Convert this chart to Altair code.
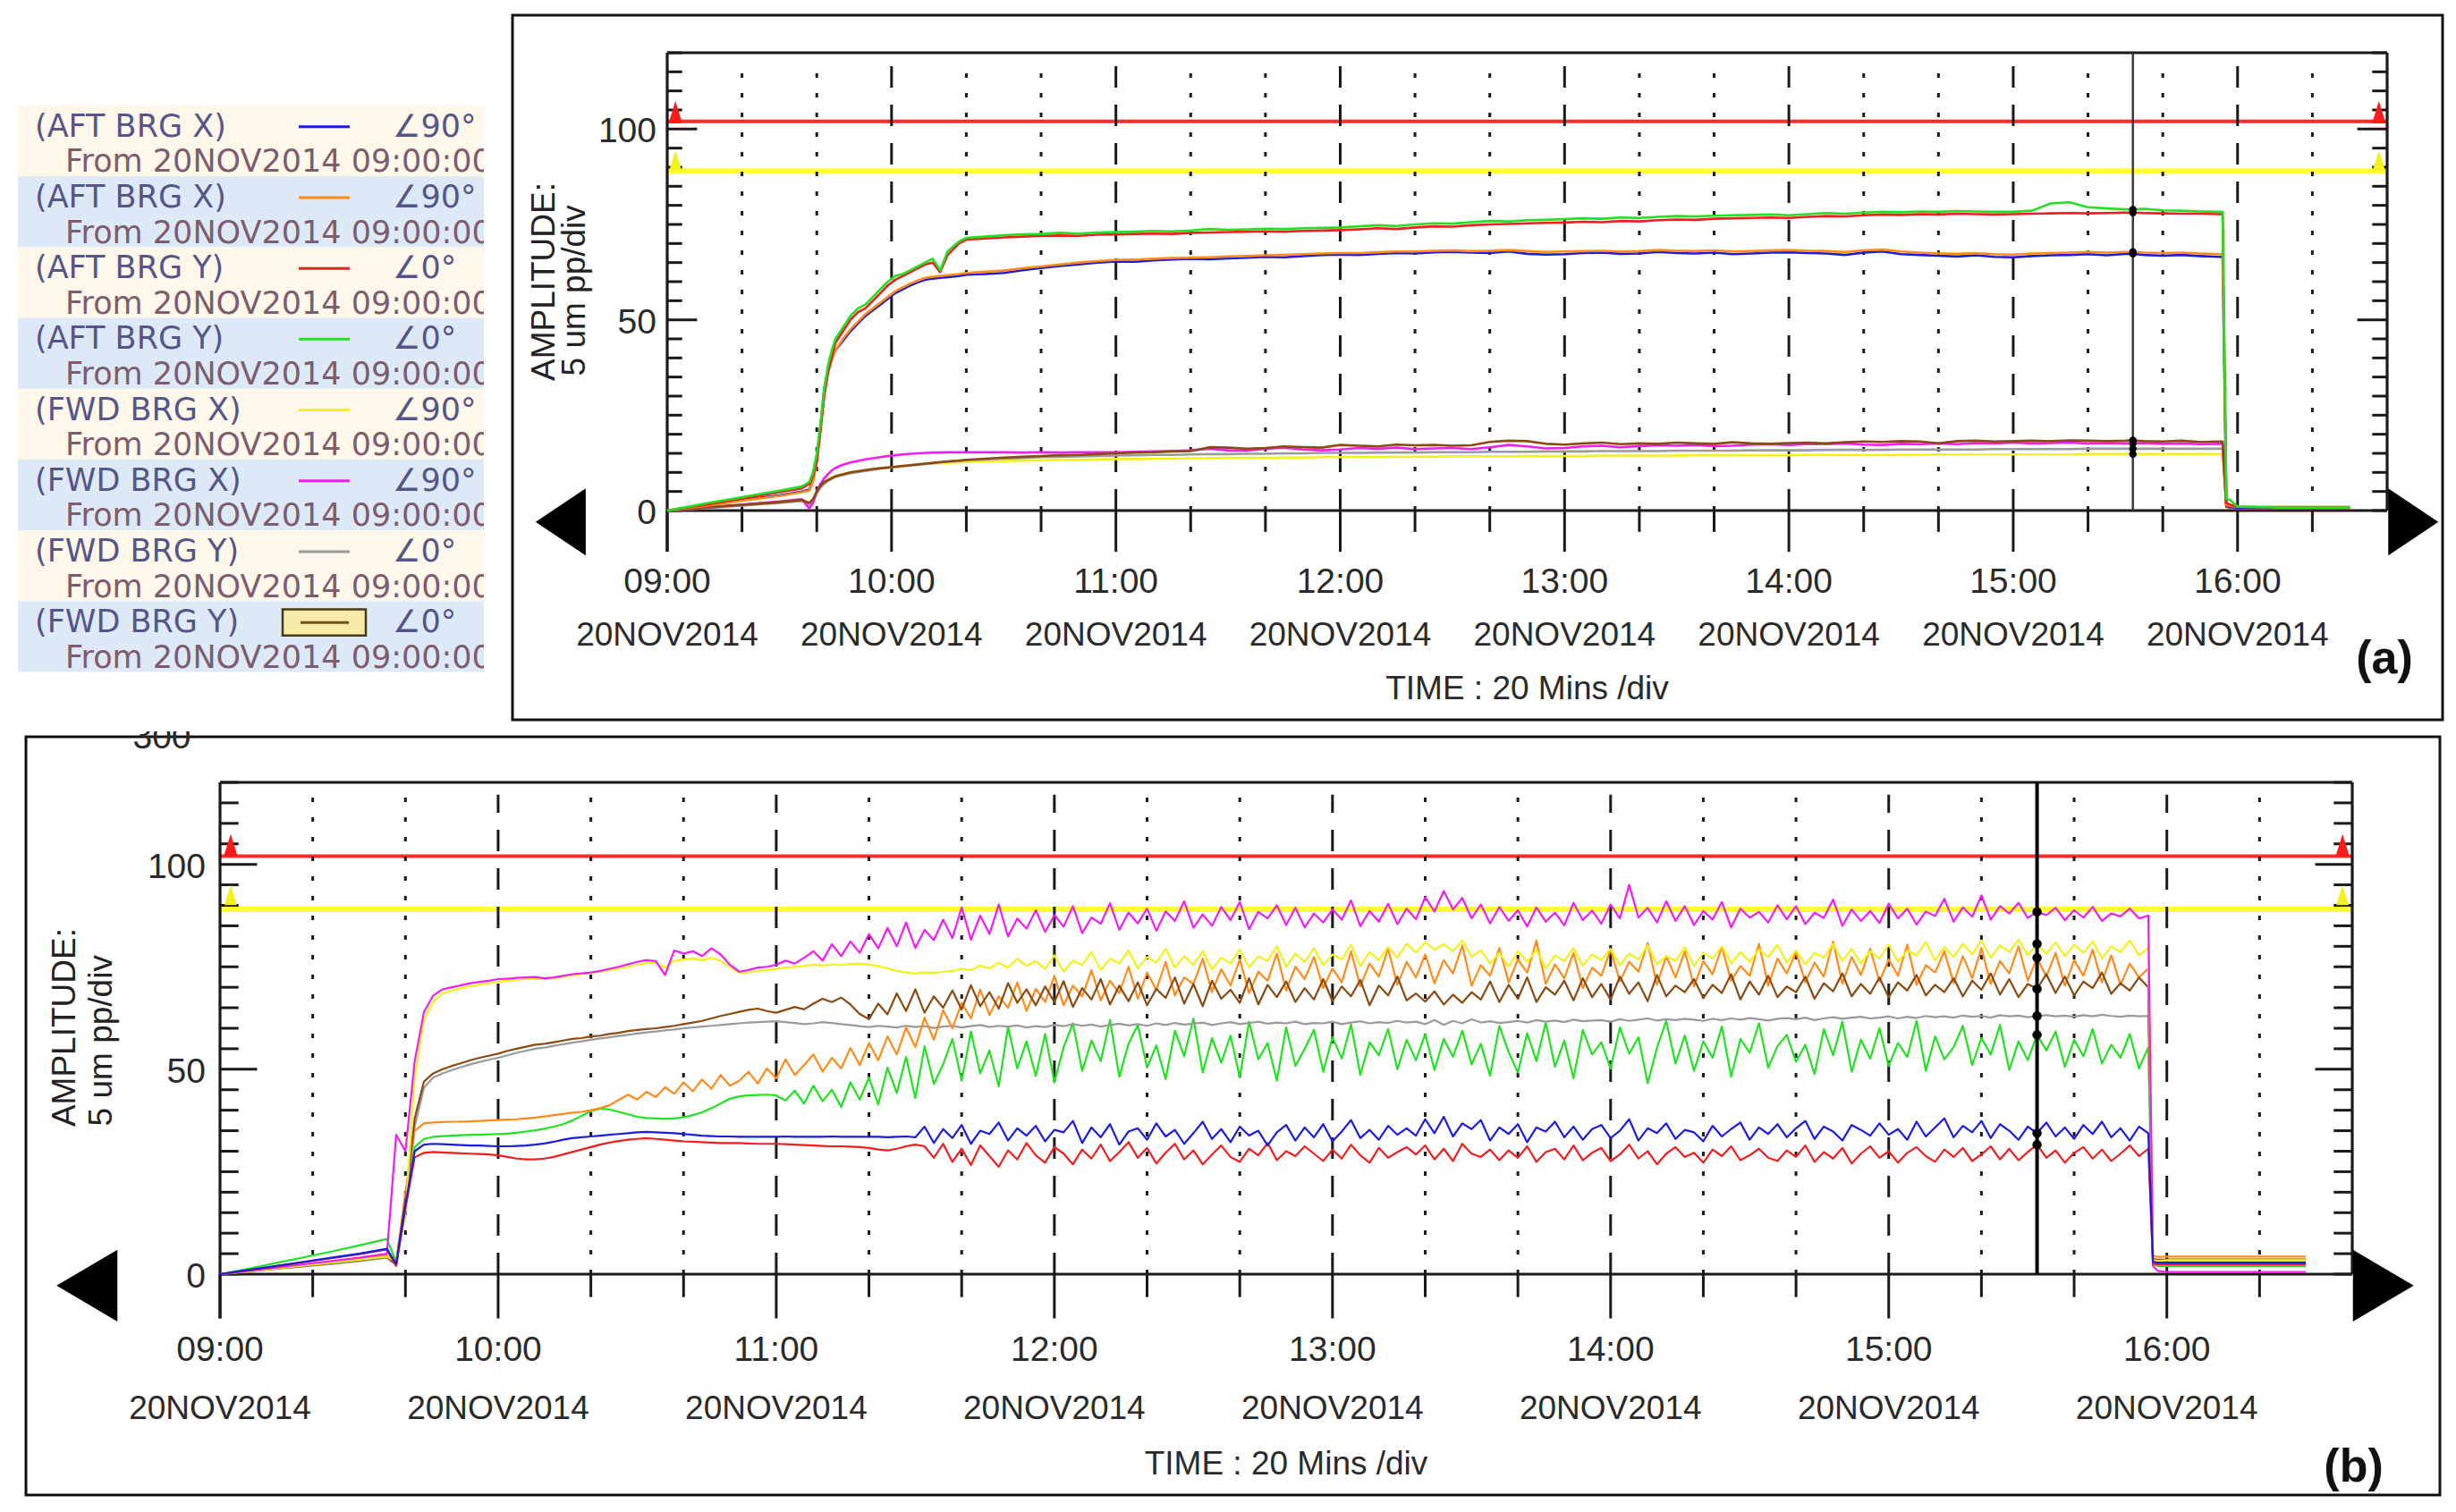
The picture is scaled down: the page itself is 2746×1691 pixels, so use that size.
import altair as alt
import pandas as pd

# ---------------- categories, labels, colours ----------------
SERIES = ["AFT_X_90", "AFT_X", "AFT_Y_0", "AFT_Y", "FWD_X_90", "FWD_X", "FWD_Y_0", "FWD_Y"]
COLORS = ["#1c1cdc", "#ff8c1a", "#f01e1e", "#22e022", "#f2f21a", "#f01ef0", "#9a9a9a", "#8b4a10"]
LEGEND_NAMES = ["(AFT BRG X)", "(AFT BRG X)", "(AFT BRG Y)", "(AFT BRG Y)",
                "(FWD BRG X)", "(FWD BRG X)", "(FWD BRG Y)", "(FWD BRG Y)"]
LEGEND_ANGLES = ["∠90°", "∠90°", "∠0°", "∠0°", "∠90°", "∠90°", "∠0°", "∠0°"]
LEGEND_FROM = "From 20NOV2014 09:00:00"
LEGEND_BG = ["#fff8ea", "#dde9f6", "#fff8ea", "#dde9f6", "#fff8ea", "#dde9f6", "#fff8ea", "#dde9f6"]
HOUR_T = [0, 60, 120, 180, 240, 300, 360, 420]           # minutes after 09:00
HOUR_LABELS = ["09:00", "10:00", "11:00", "12:00", "13:00", "14:00", "15:00", "16:00"]
DATE_LABEL = "20NOV2014"
MINOR_T = [20, 40, 80, 100, 140, 160, 200, 220, 260, 280, 320, 340, 380, 400, 440]
Y_TICKS = [0, 5, 10, 15, 20, 25, 30, 35, 40, 45, 50, 55, 60, 65, 70, 75, 80, 85, 90, 95,
           100, 105, 110, 115, 120]
Y_LABELS = [0, 50, 100]
ALARM_DANGER = 102
ALARM_ALERT = 89
CURSOR_T = 392
T_END = 460
TIME_TITLE = "TIME : 20 Mins /div"

# ---------------- panel (a) data ----------------
A_T = ([0, 10, 20, 30, 36, 38, 39, 40, 41, 42, 43, 44, 45, 47, 49, 51, 53, 55, 57, 59,
        61, 63, 65, 67, 69, 71, 73, 75, 78, 80]
       + list(range(85, 391, 5))
       + [392, 395, 400, 405, 410, 415, 416, 417, 418, 420, 430, 450])

A = {}
A["AFT_Y"] = ([0, 1.8, 3.5, 5.2, 6.3, 7.5, 10, 15, 23, 32, 38, 42, 45, 48, 51, 53, 54, 56, 58, 60,
               61.5, 62, 63, 64, 65, 66, 63, 68, 70.5, 71.5]
              + [71.8, 72.2, 72.4, 72.5, 72.8, 72.6, 72.9, 73, 73.1, 73.3,
                 73.2, 73.4, 73.8, 73.6, 73.7, 73.9, 73.8, 74, 74.1, 74.2,
                 74.5, 74.8, 74.6, 75, 75.3, 75.2, 75.6, 75.9, 75.8, 76.1,
                 76.2, 76.4, 76.6, 76.5, 76.8, 76.7, 77, 77.2, 77.1, 77.3,
                 77.4, 77.5, 77.6, 77.4, 77.7, 78, 77.8, 78.1, 78.3, 78.2,
                 78.4, 78.3, 78.5, 78.4, 78.3, 78.3, 78.6, 80.5, 80.8, 79.5,
                 79.2, 79]
              + [78.9, 79.1, 78.7, 78.6, 78.4, 78.3, 78.3, 3, 2.8, 1, 0.8, 0.8])
A["AFT_Y_0"] = ([0, 1.5, 3.2, 4.8, 5.8, 7, 9, 13, 21, 30, 36, 40, 44, 47, 50, 52, 53, 55, 57, 59,
                 60.5, 61.5, 62.5, 63.5, 64.5, 65, 62.5, 67, 70, 71]
                + [71.3, 71.6, 71.8, 72, 72.1, 72, 72.3, 72.4, 72.5, 72.6,
                   72.5, 72.8, 72.9, 73, 73.1, 73.2, 73.1, 73.3, 73.4, 73.5,
                   73.7, 74, 73.8, 74.2, 74.5, 74.4, 74.8, 75, 75.1, 75.3,
                   75.4, 75.5, 75.7, 75.6, 75.9, 75.8, 76.1, 76.3, 76.2, 76.5,
                   76.6, 76.7, 76.8, 76.7, 77, 77.2, 77.1, 77.4, 77.6, 77.5,
                   77.7, 77.6, 77.8, 77.7, 77.6, 77.7, 77.8, 77.9, 78, 77.9,
                   78, 78.1]
                + [78.1, 78, 77.9, 77.8, 77.8, 77.7, 77.7, 2, 1.5, 1, 0.8, 0.8])
A["AFT_X_90"] = ([0, 1.3, 2.8, 4, 5, 5.5, 8, 13, 22, 32, 37, 40, 42, 44.5, 47, 49, 51, 52.5, 54, 55.5,
                  57, 58, 59, 59.8, 60.5, 60.8, 61, 61.2, 61.5, 61.8]
                 + [62, 62.3, 63, 63.6, 64.1, 64.5, 65, 65.3, 65.2, 65.6,
                    65.8, 66, 65.9, 66.1, 66.3, 66.5, 66.4, 66.7, 67, 67.1,
                    67, 67.3, 67.5, 67.4, 67.7, 67.8, 67.6, 67.5, 67.9, 67.3,
                    67.1, 67.2, 67.5, 67.6, 67.3, 67.4, 67.8, 67.5, 67.4, 67.6,
                    67.2, 67.4, 67.6, 67.7, 67.5, 67.4, 67, 67.6, 67.9, 67.2,
                    67, 66.8, 66.6, 66.9, 66.5, 66.4, 66.7, 66.9, 67, 67.2,
                    66.9, 67.3]
                 + [67.3, 67, 66.8, 67, 66.7, 66.5, 66.5, 1.5, 1, 0.8, 0.8, 0.8])
A["AFT_X"] = ([0, 1.2, 2.6, 3.8, 4.8, 5.3, 7.5, 12.5, 21, 31, 36.5, 39.5, 42, 45, 47.5, 49.5, 51.5, 53,
               54.5, 56, 57.5, 58.5, 59.5, 60.3, 61, 61.3, 61.5, 61.7, 62, 62.3]
              + [62.6, 62.9, 63.5, 64, 64.5, 65, 65.4, 65.7, 65.8, 66,
                 66.2, 66.3, 66.4, 66.6, 66.7, 66.9, 67, 67.2, 67.4, 67.5,
                 67.5, 67.7, 67.9, 67.9, 68.1, 68.2, 68, 68.1, 68.3, 68,
                 67.8, 67.9, 68, 68.1, 67.9, 68, 68.3, 68.1, 68, 68.2,
                 67.9, 68, 68.2, 68.3, 68.1, 68, 67.8, 68.2, 68.4, 67.9,
                 67.6, 67.4, 67.3, 67.5, 67.2, 67.1, 67.4, 67.5, 67.6, 67.8,
                 67.6, 67.8]
              + [67.8, 67.6, 67.5, 67.6, 67.4, 67.2, 67.2, 1.5, 1.2, 1, 1, 1])
A["FWD_X_90"] = ([0, 0.7, 1.4, 2.1, 2.6, 1.8, 3, 5, 6.5, 7.5, 8.2, 8.7, 9.1, 9.6, 10, 10.3, 10.6, 10.8,
                  11, 11.2, 11.4, 11.6, 11.8, 12, 12.2, 12.3, 12.4, 12.5, 12.6, 12.7]
                 + [12.9, 13, 13.1, 13.2, 13.3, 13.3, 13.4, 13.5, 13.5, 13.6,
                    13.6, 13.7, 13.7, 13.8, 13.8, 13.8, 13.9, 13.9, 14, 14,
                    14, 14, 14.1, 14.1, 14.1, 14.2, 14.2, 14.2, 14.2, 14.3,
                    14.3, 14.3, 14.3, 14.4, 14.4, 14.4, 14.4, 14.4, 14.5, 14.5,
                    14.5, 14.5, 14.5, 14.5, 14.6, 14.6, 14.6, 14.6, 14.6, 14.6,
                    14.6, 14.7, 14.7, 14.7, 14.7, 14.7, 14.7, 14.7, 14.7, 14.8,
                    14.8, 14.8]
                 + [14.8, 14.8, 14.8, 14.8, 14.8, 14.8, 14.8, 1, 0.8, 0.6, 0.6, 0.6])
A["FWD_X"] = ([0, 0.8, 1.6, 2.4, 3, 0.5, 2, 5, 7, 8.5, 9.5, 10.5, 11.2, 12, 12.6, 13, 13.4, 13.7, 14,
               14.3, 14.5, 14.7, 14.9, 15, 15.1, 15.2, 15.2, 15.3, 15.3, 15.3]
              + [15.3, 15.3, 15.2, 15.3, 15.2, 15.3, 15.3, 15.3, 15.4, 15.5,
                 15.6, 15.8, 16.2, 15.8, 15.7, 16.2, 16.5, 16, 15.8, 16,
                 16.4, 16.2, 16.5, 16.1, 16.3, 16.4, 16.1, 16.6, 17.2, 16.8,
                 16.3, 16.4, 16.8, 17, 16.6, 16.9, 17.1, 17, 17.2, 16.9,
                 17, 17.3, 17.4, 17.2, 17.5, 17.4, 17.6, 17.3, 17.2, 17.5,
                 17.4, 17.6, 17.4, 17.7, 17.6, 17.8, 17.6, 17.7, 17.8, 17.6,
                 17.7, 17.6]
              + [17.6, 17.7, 17.5, 17.6, 17.4, 17.5, 17.5, 1, 0.8, 0.5, 0.5, 0.5])
A["FWD_Y"] = ([0, 0.8, 1.5, 2.2, 2.8, 2, 3, 5, 6.5, 7.5, 8, 8.5, 9, 9.5, 10, 10.3, 10.6, 10.9, 11.1,
               11.3, 11.5, 11.7, 11.9, 12.1, 12.3, 12.5, 12.7, 12.9, 13.1, 13.3]
              + [13.6, 13.9, 14.1, 14.3, 14.5, 14.6, 14.8, 15, 15.2, 15.3,
                 15.5, 15.6, 16.6, 16.5, 16.2, 16.4, 16.8, 16.6, 16.5, 17.2,
                 17, 16.8, 17.3, 17.1, 17.2, 17, 17.1, 18, 18.3, 18.2,
                 17.5, 17.3, 17.6, 17.8, 17.4, 17.6, 17.5, 17.8, 17.6, 17.5,
                 17.9, 17.6, 17.5, 17.7, 17.8, 17.6, 17.9, 18.1, 18, 18.2,
                 18.1, 17.6, 18.2, 18.3, 18.1, 18.2, 18.3, 18.2, 18.4, 18.3,
                 18.2, 18.3]
              + [18.4, 18.2, 18.1, 18.3, 18, 18.1, 18.1, 1, 0.8, 0.6, 0.6, 0.6])
A["FWD_Y_0"] = ([0, 0.6, 1.3, 2, 2.5, 1.5, 2.5, 4.5, 6, 7, 7.8, 8.3, 8.8, 9.3, 9.8, 10.1, 10.4, 10.7, 11,
                 11.2, 11.4, 11.6, 11.8, 12, 12.2, 12.4, 12.6, 12.8, 13, 13.2]
                + [13.4, 13.6, 13.8, 14, 14.1, 14.2, 14.3, 14.4, 14.5, 14.6,
                   14.6, 14.7, 14.8, 14.8, 14.9, 14.9, 15, 15, 15.1, 15.1,
                   15.1, 15.2, 15.2, 15.2, 15.3, 15.3, 15.3, 15.4, 15.4, 15.4,
                   15.5, 15.5, 15.5, 15.6, 15.6, 15.6, 15.6, 15.7, 15.7, 15.7,
                   15.7, 15.8, 15.8, 15.8, 15.8, 15.9, 15.9, 15.9, 15.9, 16,
                   16, 16, 16, 16, 16.1, 16.1, 16.1, 16.1, 16.1, 16.2,
                   16.2, 16.2]
                + [16.2, 16.2, 16.2, 16.2, 16.2, 16.2, 16.2, 1, 0.8, 0.6, 0.6, 0.6])

# ---------------- panel (b) data ----------------
B_T = [0, 6, 12, 18, 24, 30, 36] + list(range(38, 417, 2)) + [417, 418, 420, 430, 440, 450]

B = {}
B["FWD_X"] = ([0, 0.8, 1.6, 2.4, 3.2, 4, 5]
              + [34, 30, 52, 64, 68, 69.5, 70, 70.5, 71, 71.3,
                 71.6, 72, 72.1, 72.3, 72.4, 72.5, 72.2, 72.4, 72.8, 73.2,
                 73.4, 73.6, 74, 74.5, 75, 75.6, 76.2, 76.6, 76.4, 73,
                 79, 78.2, 78.8, 77.6, 79.5, 78, 75.5, 73.8, 74.2, 74.8,
                 75, 75.5, 76.5, 75.8, 77.2, 78.8, 76.5, 80.5, 77.6, 81.2,
                 78.4, 83, 79.5, 84.5, 80, 85.8, 79.6, 84, 81.5, 86.5,
                 82, 89.5, 81.6, 87.5, 83, 90.2, 82.4, 86.8, 84.3, 88.8,
                 83.5, 87.6, 84.8, 89.8, 83.2, 87, 85.5, 90.5, 84, 88.2,
                 85.6, 89.2, 83.8, 88.5, 86.2, 91, 84.5, 87.8, 85, 89.6,
                 86.4, 90.8, 84.2, 88.4, 86.8, 90, 85.2, 89.4, 84.6, 88,
                 85.8, 89, 86.5, 91.2, 84.9, 88.6, 86, 90.4, 85.4, 89.2,
                 86.6, 92, 88.5, 93.5, 89, 91.8, 86.8, 90.2, 85.6, 89.6,
                 86.2, 88.8, 84.8, 89.5, 86, 88.2, 85.1, 90.6, 86.4, 88.7,
                 85.5, 90.2, 86.8, 95, 87, 89.4, 85.8, 91, 86.2, 89.8,
                 85.2, 88.6, 86.5, 90.8, 84.6, 89.2, 87, 88.4, 85.8, 90,
                 86.6, 89.8, 85.4, 88.2, 86.9, 91.4, 85, 89, 86.2, 88.6,
                 85.7, 90.4, 86.8, 89.2, 85.3, 88.5, 87.4, 91.6, 86, 89.5,
                 87.2, 92.4, 86.5, 89.8, 88, 90.6, 86.9, 88.4, 87.6, 89.4,
                 86.4, 88.8, 87, 89.6, 86.2, 88, 87.3, 89.2, 86.8, 87.5]
              + [2, 0.8, 0.5, 0.5, 0.5, 0.5])
B["FWD_X_90"] = ([0, 0.7, 1.4, 2.1, 2.8, 3.5, 4.3]
                 + [3, 15, 48, 62, 66.5, 68.5, 69.2, 69.8, 70.3, 70.7,
                    71, 71.4, 71.6, 71.8, 72, 72.1, 72, 72.2, 72.6, 73,
                    73.2, 73.5, 73.8, 74.2, 74.6, 75, 75.5, 75.9, 76, 74.8,
                    76.5, 76.8, 77, 76.6, 77.2, 76.4, 75, 73.5, 73.6, 74,
                    74.2, 74.5, 74.8, 75, 75.2, 75.5, 75.3, 75.6, 75.4, 75.7,
                    75.8, 75.5, 75.2, 74.6, 74, 73.6, 73.4, 73.6, 73.5, 73.8,
                    74, 74.5, 74.2, 75.3, 74.6, 76, 74.8, 77, 75.2, 76.4,
                    74.5, 77.8, 73.8, 76.5, 75.4, 78.6, 74.2, 77, 75.8, 79,
                    74.6, 77.4, 76, 79.4, 74.8, 77.6, 75.5, 78.8, 74.4, 77.2,
                    75.8, 79.2, 74.9, 77.5, 76.4, 80, 75, 78.2, 76.2, 79.5,
                    75.4, 78, 76.8, 80.4, 75.2, 78.6, 76.6, 79.8, 77.2, 80.6,
                    78.5, 81, 79.2, 80.5, 78.8, 81.4, 77.5, 79, 75.8, 78.4,
                    75, 78.8, 76.2, 79.2, 74.6, 77.8, 76.4, 79.6, 75.2, 78,
                    76.6, 79.4, 75.4, 78.2, 76.8, 80.2, 75.6, 77.6, 76.4, 79.8,
                    75.2, 78.4, 77, 80, 75.8, 78.6, 76.2, 79.2, 77.4, 80.4,
                    76, 79, 75.6, 78.4, 77.2, 80.6, 76.4, 79.4, 75.8, 78.8,
                    77, 80.4, 76.2, 79, 77.8, 81, 76.6, 79.8, 77.4, 80.6,
                    78, 81.4, 77.2, 80.2, 78.6, 81.6, 77.8, 80.6, 78.2, 81,
                    77.6, 80.4, 78.4, 81.2, 77, 80, 78.6, 81.4, 77.8, 79.6]
                 + [3.5, 3.2, 3.4, 3.4, 3.4, 3.4])
B["FWD_Y"] = ([0, 0.7, 1.4, 2, 2.7, 3.4, 4.2]
              + [2.5, 18, 38, 47, 49, 50, 50.8, 51.5, 52.2, 52.8,
                 53.3, 53.8, 54.5, 55, 55.5, 56, 56.2, 56.6, 57, 57.4,
                 57.6, 58, 58.2, 58.6, 58.9, 59.3, 59.6, 59.8, 60, 60.3,
                 60.6, 61, 61.4, 61.8, 62.4, 63, 63.5, 64, 64.5, 64.8,
                 64.2, 63.8, 64.5, 65.2, 64.6, 66, 67.2, 66.4, 67.5, 65.8,
                 63.5, 62.2, 66, 63.4, 68.5, 64.2, 69.5, 63.8, 67.8, 65,
                 69.2, 64.6, 70.5, 65.4, 68.8, 64.8, 71, 66.2, 69.5, 65.6,
                 70.2, 66.4, 71.5, 65.2, 69.8, 67, 72, 65.8, 70.4, 66.6,
                 71.2, 65.6, 69.6, 67.4, 72.4, 66, 70.8, 65.4, 71.6, 67.2,
                 69.4, 66.2, 72.2, 65.8, 70.6, 67.6, 71.4, 66.4, 69.8, 67,
                 72, 66.6, 70.2, 67.8, 71.8, 65.6, 70.4, 68, 72.6, 66.8,
                 68.5, 66.5, 69, 65.8, 68.2, 66.2, 68.8, 67, 71.4, 66.4,
                 70.6, 67.2, 72.4, 66.4, 70, 68.2, 71.6, 66.8, 72.2, 67.6,
                 70.8, 67, 72.6, 68.4, 71.2, 66.6, 73, 67.8, 70.4, 68.8,
                 72, 67.4, 70.6, 68.6, 73.2, 67, 71.4, 68.2, 72.8, 67.6,
                 70.2, 68.8, 72.6, 67.2, 71, 69, 73.4, 67.8, 70.8, 68.4,
                 72.4, 67.6, 71.2, 69.2, 73, 68, 70.6, 68.8, 72.2, 67.8,
                 71.6, 69.4, 73.4, 68.2, 72, 67.6, 70.8, 69.6, 73.2, 68.6,
                 72.6, 68, 71.4, 69.8, 73.6, 68.4, 71, 69.2, 72.4, 70]
              + [3.8, 3.5, 3.6, 3.6, 3.6, 3.6])
B["FWD_Y_0"] = ([0, 0.6, 1.3, 1.9, 2.5, 3.2, 4]
                + [2.2, 16, 36, 45.5, 48, 49, 49.8, 50.5, 51.2, 51.8,
                   52.3, 52.8, 53.4, 54, 54.5, 55, 55.3, 55.7, 56.1, 56.5,
                   56.8, 57.2, 57.5, 57.8, 58.1, 58.4, 58.7, 59, 59.2, 59.5,
                   59.7, 60, 60.2, 60.4, 60.6, 60.8, 61, 61.2, 61.4, 61.5,
                   61.6, 61.7, 61.5, 61.3, 61, 61.2, 61.5, 61.3, 61, 60.8,
                   60.5, 60.3, 60.6, 60.4, 60.2, 60.6, 60.3, 60.5, 60.1, 60.4,
                   60.6, 60.2, 60.5, 60.8, 60.3, 60.6, 60.4, 60.7, 60.2, 60.5,
                   60.3, 60.8, 60.5, 61, 60.6, 60.9, 60.4, 60.8, 61.1, 60.7,
                   61, 60.6, 61.2, 60.8, 61.3, 60.9, 61.1, 61.4, 60.8, 61.2,
                   61.5, 61, 61.3, 61.6, 61.1, 61.4, 61.2, 61.6, 61, 61.3,
                   61.2, 61.6, 61, 61.4, 61.7, 61.2, 61.5, 61.3, 61.8, 61.4,
                   61.6, 61, 62, 60.8, 61.8, 61.2, 62.2, 61.4, 61.7, 61.3,
                   61.5, 61.8, 61.4, 62, 61.6, 61.9, 61.5, 62.1, 61.7, 61.9,
                   62, 61.6, 62.2, 61.8, 62.1, 62.4, 61.9, 62.2, 62, 62.3,
                   62.1, 61.8, 62.3, 62, 62.4, 62.1, 62.5, 62.2, 61.9, 62.3,
                   62.5, 62.2, 62.6, 62, 62.4, 62.7, 62.3, 62.6, 62.8, 62.4,
                   62.6, 62.9, 62.4, 62.8, 62.5, 63, 62.7, 62.9, 62.6, 63.1,
                   62.8, 63, 62.6, 63.2, 62.9, 63.1, 62.7, 63, 63.2, 62.9,
                   63.1, 62.8, 63.2, 62.9, 63.3, 63, 62.8, 63.1, 62.9, 63]
                + [3.2, 3, 3, 3, 3, 3])
B["AFT_X"] = ([0, 0.8, 1.5, 2.3, 3, 3.8, 4.6]
              + [2.8, 20, 35, 36.8, 37, 37.1, 37.2, 37.2, 37.3, 37.4,
                 37.5, 37.6, 37.7, 37.8, 38, 38.2, 38.5, 38.8, 39.1, 39.4,
                 39.6, 40, 40.5, 41.2, 42.5, 43.8, 42.6, 44.5, 43.2, 45.6,
                 44, 46.8, 44.6, 47.5, 45.2, 48.6, 46, 47.2, 49.4, 46.5,
                 50.2, 47.8, 52.4, 48.6, 51, 53.6, 49.4, 52.8, 50.2, 55.2,
                 51, 56.4, 52.2, 58, 53.6, 60.2, 55.4, 62.6, 57.2, 64.4,
                 60, 66.2, 62.4, 69.4, 63.2, 67.8, 65, 71.2, 64.2, 69.6,
                 66.4, 72.8, 65.6, 70.4, 67.8, 74.2, 66.8, 71.6, 68.6, 75,
                 67.2, 73.6, 69.4, 76.2, 68, 72.4, 70.8, 77, 68.8, 74.4,
                 70.4, 76.8, 68.6, 73.8, 71.6, 78.2, 69.2, 75, 72, 77.4,
                 69.8, 74.6, 71.2, 78.8, 70.2, 75.8, 72.6, 79.4, 70.6, 76.2,
                 72.4, 78, 71, 76.6, 73.4, 80.2, 70.4, 75.4, 72.8, 79.6,
                 71.2, 76.8, 73.6, 81.4, 70.8, 75.6, 72.2, 78.4, 69.8, 74.8,
                 72.8, 79.2, 71.4, 76.2, 73.8, 80.8, 70.6, 77.6, 72.4, 78.8,
                 70.2, 76.4, 73.2, 79.8, 71.6, 75.2, 72.8, 80.6, 70.4, 77,
                 73.4, 78.6, 71.2, 76, 72.6, 81.2, 70.8, 77.4, 73, 79.4,
                 71.4, 76.8, 72.8, 80.4, 70.6, 75.4, 73.6, 78.8, 71, 77.6,
                 72.2, 79.6, 70.8, 76.4, 73.4, 80, 71.6, 77.2, 72.6, 78.4,
                 70.4, 76.6, 72.8, 79.2, 71.2, 77.8, 70.6, 75.8, 72.4, 74.6]
              + [4.5, 4.2, 4.3, 4.3, 4.3, 4.3])
B["AFT_Y"] = ([0, 1.3, 2.7, 4.1, 5.5, 7, 8.6]
              + [3, 18, 31, 33, 33.5, 33.7, 33.8, 33.9, 34, 34,
                 34.1, 34.2, 34.3, 34.5, 34.8, 35.1, 35.5, 36, 36.6, 37.5,
                 38.6, 39.8, 40.4, 40.2, 39.6, 39, 38.4, 38.1, 38, 37.9,
                 38, 38.3, 38.8, 39.5, 40.5, 41.6, 42.8, 43.4, 43.6, 43.7,
                 43.8, 43.6, 42.4, 44.8, 41.6, 46, 42.2, 45, 40.8, 46.8,
                 42.6, 48, 41.4, 50.4, 44.2, 53, 43, 55.6, 46.4, 51.2,
                 57.4, 47.2, 59.2, 49, 54.6, 45.8, 60.4, 50.2, 56.8, 48.4,
                 58.6, 46.8, 55.4, 61.2, 49.6, 57, 52, 62, 48.2, 56.2,
                 60.8, 50.4, 55.8, 47.6, 59.4, 53.2, 62.4, 49.2, 57.6, 51.6,
                 58.2, 48, 61.6, 52.4, 56.4, 47.2, 60.2, 50.8, 55, 59.6,
                 49.4, 57.8, 52.6, 61, 48.6, 56.6, 53.4, 59.8, 50, 57.2,
                 52.2, 58.6, 49.8, 57.4, 53, 59.4, 51.2, 56.2, 48.4, 60.6,
                 54.2, 49.2, 58.8, 52, 61.4, 50.6, 57, 47.8, 59.6, 53.6,
                 56.6, 50.2, 60.2, 53.8, 57.8, 46.6, 55.2, 61.8, 51.4, 58.2,
                 49.6, 56.8, 52.8, 60.4, 48.2, 57.4, 54, 61.2, 50.4, 55.6,
                 58.4, 51.8, 56, 48.8, 59.8, 53.4, 61.6, 49.4, 57.2, 52.6,
                 60, 50.8, 56.4, 53, 61.8, 49.6, 58, 52.4, 55.4, 60.6,
                 51, 57.6, 53.6, 60.8, 49.8, 56.8, 52.2, 58.4, 54.6, 59.2,
                 50.6, 57.2, 53.2, 59.8, 51.4, 56, 52.8, 58.6, 50.2, 55.4]
              + [2.4, 2, 2, 2, 2, 2])
B["AFT_X_90"] = ([0, 1, 2, 3, 4, 5, 6.2]
                 + [2.5, 17, 30, 31.6, 31.8, 31.7, 31.6, 31.5, 31.4, 31.4,
                    31.3, 31.2, 31.2, 31.3, 31.4, 31.6, 31.9, 32.3, 32.8, 33.2,
                    33.4, 33.6, 33.8, 34, 34.2, 34.4, 34.6, 34.7, 34.6, 34.5,
                    34.4, 34.2, 34, 33.8, 33.7, 33.6, 33.6, 33.5, 33.5, 33.5,
                    33.5, 33.5, 33.6, 33.5, 33.5, 33.5, 33.5, 33.6, 33.5, 33.5,
                    33.5, 33.5, 33.5, 33.4, 33.5, 33.6, 33.4, 36, 32, 35.4,
                    33.2, 36.4, 31.8, 35, 34.2, 37, 32.6, 35.6, 33.8, 36.2,
                    32.4, 35.2, 34.6, 37.4, 32, 35.8, 33.4, 36.6, 31.6, 34.8,
                    35.6, 32.8, 36.8, 33.6, 35.2, 31.8, 34.4, 37.2, 33, 35.4,
                    32.2, 36, 33.8, 35, 31.4, 34.6, 36.4, 32.6, 35.8, 33.4,
                    36.6, 32.4, 34.8, 37.6, 33.2, 35.2, 32.8, 36.2, 34, 35.6,
                    33.8, 37.8, 34.4, 38.4, 33.6, 36.8, 35.4, 37.6, 32.6, 35.8,
                    34.2, 36.6, 32.2, 35.8, 34.8, 37.2, 33.4, 36, 32.8, 35.4,
                    36.4, 33.2, 35, 37.8, 32.6, 35.6, 34.4, 36.8, 33, 35.2,
                    34.6, 32.4, 36.2, 33.6, 35.4, 37, 32.8, 35.8, 34.2, 36.6,
                    33.4, 35.6, 37.4, 33, 36, 34.8, 32.6, 36.4, 35.2, 33.8,
                    36.8, 34, 35.4, 32.8, 37.2, 33.6, 35.8, 38, 33.4, 36.2,
                    34.6, 37.4, 33.2, 36.6, 35, 32.8, 36, 34.4, 37, 33.6,
                    35.8, 33, 36.4, 34.2, 37.2, 33.4, 35.6, 32.6, 36, 34.4]
                 + [3, 2.8, 2.8, 2.8, 2.8, 2.8])
B["AFT_Y_0"] = ([0, 0.9, 1.9, 2.9, 3.9, 4.9, 6]
                + [2, 16, 28.5, 29.6, 29.8, 29.7, 29.6, 29.5, 29.4, 29.3,
                   29.2, 29, 28.6, 28.2, 28, 28, 28.2, 28.6, 29.2, 29.8,
                   30.4, 31, 31.6, 32.1, 32.5, 32.8, 33, 33.2, 33, 32.8,
                   32.6, 32.4, 32.3, 32.2, 32.1, 32, 32, 32, 31.9, 31.8,
                   31.8, 31.8, 31.7, 31.6, 31.5, 31.4, 31.3, 31.2, 31.2, 31.1,
                   31, 30.8, 30.4, 30.2, 30.6, 31.2, 31.6, 31.2, 28.4, 31.8,
                   27.4, 30.6, 26.6, 31.4, 28.8, 26.2, 30.2, 28, 32, 29,
                   27.2, 31, 29.4, 26.8, 30.4, 28.2, 31.6, 27.6, 29.8, 32.2,
                   28.4, 30.8, 27, 29.6, 31.8, 28, 30.2, 26.8, 29.2, 31.4,
                   28.6, 27.4, 30.6, 29, 32, 27.8, 30, 28.8, 31.2, 29.4,
                   27.6, 30.4, 28.2, 31.6, 29, 27.2, 30.8, 28.4, 29.8, 31,
                   29.2, 31.4, 28, 30.6, 27.6, 31.8, 29.4, 28.6, 30.4, 27.8,
                   30.2, 28.4, 31.2, 27.4, 29.8, 30.6, 28, 31.4, 27.8, 29.6,
                   30.8, 27.6, 29.2, 31.6, 28.2, 30, 26.8, 29.4, 31, 28.6,
                   29.6, 27.2, 30.4, 28.8, 31.2, 27.8, 29, 30.6, 28.4, 27.6,
                   30.2, 28.6, 31.4, 27.4, 29.8, 28.2, 30.8, 27, 29.4, 31.2,
                   28.4, 30, 27.2, 29.6, 31, 28.8, 27.4, 30.4, 28.6, 30.8,
                   27.6, 29.2, 31.2, 28, 30.6, 27.8, 29.8, 31.6, 28.4, 30.2,
                   27.2, 29.6, 31, 28.2, 30.4, 27.6, 29.4, 31.4, 28.8, 30.6]
                + [2.6, 2.4, 2.4, 2.4, 2.4, 2.4])


def long_table(times, values):
    rows = []
    for key in SERIES:
        vals = values[key]
        assert len(vals) == len(times), (key, len(vals), len(times))
        for t, v in zip(times, vals):
            rows.append({"t": t, "v": v, "s": key})
    return pd.DataFrame(rows)


DF_A = long_table(A_T, A)
DF_B = long_table(B_T, B)
COLOR_OF = dict(zip(SERIES, COLORS))

TICKFONT = "Liberation Sans, Arial, sans-serif"
SANS = "Liberation Sans, Arial, sans-serif"
INK = "#1a1a1a"
LABEL_INK = "#2a2a2a"
TICK_FS = 37


def X(field, sc):
    return alt.X(field, type="quantitative", scale=sc, axis=None)


def Y(field, sc):
    return alt.Y(field, type="quantitative", scale=sc, axis=None)


def rules(df, sx, sy, **mk):
    return alt.Chart(df).mark_rule(**mk).encode(
        x=X("t0", sx), x2=alt.X2("t1"), y=Y("v0", sy), y2=alt.Y2("v1"))


def panel(df, P):
    sx = alt.Scale(domain=[0, T_END], range=P["xr"], nice=False, zero=False)
    sy = alt.Scale(domain=[0, 120], range=P["yr"], nice=False, zero=False)
    L = []
    # alarm levels
    L.append(rules(pd.DataFrame({"t0": [0], "t1": [T_END], "v0": [ALARM_ALERT], "v1": [ALARM_ALERT]}),
                   sx, sy, color="#ffff33", strokeWidth=6))
    L.append(rules(pd.DataFrame({"t0": [0], "t1": [T_END], "v0": [ALARM_DANGER], "v1": [ALARM_DANGER]}),
                   sx, sy, color="#ff2a2a", strokeWidth=4))
    # vertical grid
    L.append(rules(pd.DataFrame({"t0": MINOR_T, "t1": MINOR_T, "v0": 0.0, "v1": 117.0}),
                   sx, sy, color=INK, strokeWidth=3, strokeDash=[5, 17]))
    L.append(rules(pd.DataFrame({"t0": HOUR_T[1:], "t1": HOUR_T[1:], "v0": 0.0, "v1": 117.0}),
                   sx, sy, color=INK, strokeWidth=3, strokeDash=[24, 19]))
    # y ticks inside, left and right
    ln = [8 if v in (50, 100) else 4 for v in Y_TICKS]
    L.append(rules(pd.DataFrame({"t0": 0, "t1": ln, "v0": Y_TICKS, "v1": Y_TICKS}),
                   sx, sy, color=INK, strokeWidth=3))
    L.append(rules(pd.DataFrame({"t0": [T_END - l for l in ln], "t1": T_END, "v0": Y_TICKS, "v1": Y_TICKS}),
                   sx, sy, color=INK, strokeWidth=3))
    # x ticks below axis
    xt = HOUR_T + MINOR_T
    depth = [-10.8] * len(HOUR_T) + [-5.6] * len(MINOR_T)
    L.append(rules(pd.DataFrame({"t0": xt, "t1": xt, "v0": 0.0, "v1": depth}),
                   sx, sy, color=INK, strokeWidth=3))
    # plot frame and axes
    L.append(rules(pd.DataFrame({"t0": [0, 0, 0, T_END], "t1": [T_END, T_END, 0, T_END],
                                 "v0": [0, 120, -10.8, 0], "v1": [0, 120, 120, 120]}),
                   sx, sy, color=INK, strokeWidth=3.2))
    # data
    for key in P["order"]:
        L.append(alt.Chart(df[df.s == key]).mark_line(
            color=COLOR_OF[key], strokeWidth=P["lw"], strokeJoin="round").encode(
            x=X("t", sx), y=Y("v", sy), order="t:Q"))
    # cursor
    L.append(rules(pd.DataFrame({"t0": [CURSOR_T], "t1": [CURSOR_T], "v0": [0], "v1": [120]}),
                   sx, sy, color=P["cur_col"], strokeWidth=P["cur_w"]))
    L.append(alt.Chart(df[df.t == CURSOR_T]).mark_point(
        filled=True, color="#000000", size=P["dot"], opacity=1).encode(x=X("t", sx), y=Y("v", sy)))
    # alarm markers at both edges
    tri = "M0,-1L0.62,1L-0.62,1Z"
    L.append(alt.Chart(pd.DataFrame({"t": P["mk_t"], "v": P["mk_red"]})).mark_point(
        shape=tri, filled=True, color="#ff1a1a", size=620, opacity=1).encode(x=X("t", sx), y=Y("v", sy)))
    L.append(alt.Chart(pd.DataFrame({"t": P["mk_t"], "v": P["mk_yel"]})).mark_point(
        shape=tri, filled=True, color="#f2f21a", size=500, opacity=1).encode(x=X("t", sx), y=Y("v", sy)))
    # scroll arrows
    L.append(alt.Chart(pd.DataFrame({"t": [P["arr_t"][0]], "v": [P["arr_v"]]})).mark_point(
        shape=P["arr_l"], filled=True, color="#000000", size=P["arr_size"], opacity=1).encode(
        x=X("t", sx), y=Y("v", sy)))
    L.append(alt.Chart(pd.DataFrame({"t": [P["arr_t"][1]], "v": [P["arr_v"]]})).mark_point(
        shape=P["arr_r"], filled=True, color="#000000", size=P["arr_size"], opacity=1).encode(
        x=X("t", sx), y=Y("v", sy)))
    # y tick labels
    L.append(alt.Chart(pd.DataFrame({"t": 0, "v": Y_LABELS, "lab": [str(v) for v in Y_LABELS]})).mark_text(
        align="right", baseline="middle", font=TICKFONT, fontSize=TICK_FS + 2, color=LABEL_INK,
        dx=P["ylab_dx"], dy=3).encode(x=X("t", sx), y=Y("v", sy), text="lab:N"))
    # x tick labels (two lines)
    L.append(alt.Chart(pd.DataFrame({"t": HOUR_T, "v": P["xl"][0], "lab": HOUR_LABELS})).mark_text(
        align="center", baseline="middle", font=TICKFONT, fontSize=TICK_FS + 2, color=LABEL_INK).encode(
        x=X("t", sx), y=Y("v", sy), text="lab:N"))
    L.append(alt.Chart(pd.DataFrame({"t": HOUR_T, "v": P["xl"][1], "lab": DATE_LABEL})).mark_text(
        align="center", baseline="middle", font=TICKFONT, fontSize=TICK_FS, color=LABEL_INK).encode(
        x=X("t", sx), y=Y("v", sy), text="lab:N"))
    L.append(alt.Chart(pd.DataFrame({"t": [T_END / 2], "v": [P["xl"][2]], "lab": [TIME_TITLE]})).mark_text(
        align="center", baseline="middle", font=TICKFONT, fontSize=TICK_FS, color=LABEL_INK).encode(
        x=X("t", sx), y=Y("v", sy), text="lab:N"))
    # y title (two rotated lines)
    L.append(alt.Chart(pd.DataFrame({"t": [P["amp"][0], P["um"][0]], "v": [P["amp"][1], P["um"][1]],
                                     "lab": ["AMPLITUDE:", "5 um  pp/div"]})).mark_text(
        align="center", baseline="middle", angle=270, font=SANS, fontSize=37, color="#222222").encode(
        x=X("t", sx), y=Y("v", sy), text="lab:N"))
    # panel tag
    L.append(alt.Chart(pd.DataFrame({"t": [P["tag"][0]], "v": [P["tag"][1]], "lab": [P["tag"][2]]})).mark_text(
        align="center", baseline="middle", font=SANS, fontSize=52, fontWeight="bold", color="#111111").encode(
        x=X("t", sx), y=Y("v", sy), text="lab:N"))
    return L


PA = dict(xr=[738, 2661], yr=[563, 51], lw=2.6, cur_col="#3a3a3a", cur_w=2.5, dot=70,
          order=["FWD_X_90", "FWD_Y_0", "FWD_X", "FWD_Y", "AFT_X_90", "AFT_X", "AFT_Y_0", "AFT_Y"],
          mk_t=[2.2, 457.8], mk_red=104.4, mk_yel=91.8,
          arr_t=[-28.5, 467.0], arr_v=-3.0, arr_size=3136,
          arr_l="M1,-1.34L-1,0L1,1.34Z", arr_r="M-1,-1.34L1,0L-1,1.34Z",
          ylab_dx=-12, xl=[-18.75, -32.8, -46.9], amp=(-32.8, 60.0), um=(-24.6, 57.7),
          tag=(459.3, -38.9, "(a)"))
PB = dict(xr=[238, 2622], yr=[1417, 867], lw=2.2, cur_col="#000000", cur_w=4, dot=110,
          order=["AFT_Y", "FWD_Y_0", "AFT_X", "FWD_Y", "FWD_X_90", "FWD_X", "AFT_Y_0", "AFT_X_90"],
          mk_t=[2.3, 457.9], mk_red=104.7, mk_yel=92.5,
          arr_t=[-28.7, 466.7], arr_v=-2.8, arr_size=4624,
          arr_l="M1,-1.18L-1,0L1,1.18Z", arr_r="M-1,-1.18L1,0L-1,1.18Z",
          ylab_dx=-16, xl=[-18.5, -32.9, -46.5], amp=(-33.4, 60.2), um=(-25.5, 57.0),
          tag=(460.3, -47.1, "(b)"))

# ---------------- legend ----------------
LEG = pd.DataFrame({"i": list(range(8)), "name": LEGEND_NAMES, "ang": LEGEND_ANGLES,
                    "col": COLORS, "bg": LEGEND_BG})
LEG["r0"] = LEG.i * 2
LEG["r1"] = LEG.i * 2 + 2
LEG["l1"] = LEG.i * 2 + 0.6
LEG["l2"] = LEG.i * 2 + 1.6
LEG["from"] = LEGEND_FROM
LEG["b0"] = LEG.l1 - 0.37
LEG["b1"] = LEG.l1 + 0.37
sL = alt.Scale(domain=[0, 16], range=[110, 743.6], nice=False, zero=False)
LEGEND_TEXT = "#55558a"
LEGEND_FROM_TEXT = "#7d5c6e"

legend_layers = [
    alt.Chart(LEG).mark_rect().encode(x=alt.value(12), x2=alt.value(533), y=Y("r0", sL), y2=alt.Y2("r1"),
                                      color=alt.Color("bg:N", scale=None)),
    alt.Chart(LEG).mark_text(align="left", baseline="middle", font="DejaVu Sans", fontSize=35,
                             color=LEGEND_TEXT).encode(x=alt.value(31), y=Y("l1", sL), text="name:N"),
    alt.Chart(LEG).mark_text(align="left", baseline="middle", font="DejaVu Sans", fontSize=35,
                             color=LEGEND_FROM_TEXT).encode(x=alt.value(65), y=Y("l2", sL), text="from:N"),
    alt.Chart(LEG).mark_text(align="left", baseline="middle", font="DejaVu Sans", fontSize=35,
                             color=LEGEND_TEXT).encode(x=alt.value(431), y=Y("l1", sL), text="ang:N"),
    alt.Chart(LEG[LEG.i < 7]).mark_rule(strokeWidth=3).encode(
        x=alt.value(326), x2=alt.value(383), y=Y("l1", sL), color=alt.Color("col:N", scale=None)),
    alt.Chart(LEG[LEG.i == 7]).mark_rect(fill="#f7eba8", stroke="#4a3a10", strokeWidth=2.5).encode(
        x=alt.value(308), x2=alt.value(401), y=Y("b0", sL), y2=alt.Y2("b1")),
    alt.Chart(LEG[LEG.i == 7]).mark_rule(strokeWidth=3, color="#6b5516").encode(
        x=alt.value(328), x2=alt.value(382), y=Y("l1", sL)),
    alt.Chart(pd.DataFrame({"k": [0]})).mark_rect(color="white").encode(
        x=alt.value(533), x2=alt.value(562), y=alt.value(100), y2=alt.value(770)),
]

frames = [
    alt.Chart(pd.DataFrame({"k": [0]})).mark_rect(fillOpacity=0, stroke="#111111", strokeWidth=3).encode(
        x=alt.value(565), x2=alt.value(2723), y=alt.value(9), y2=alt.value(797)),
    alt.Chart(pd.DataFrame({"k": [0]})).mark_rect(fillOpacity=0, stroke="#111111", strokeWidth=3).encode(
        x=alt.value(21), x2=alt.value(2720), y=alt.value(816), y2=alt.value(1664)),
]

# leftover "300" label of panel (b), cut by the panel edge
cut_label = [
    alt.Chart(pd.DataFrame({"lab": ["300"]})).mark_text(
        align="center", baseline="alphabetic", font=TICKFONT, fontSize=TICK_FS + 2, color=LABEL_INK).encode(
        x=alt.value(173), y=alt.value(829), text="lab:N"),
    alt.Chart(pd.DataFrame({"k": [0]})).mark_rect(color="white").encode(
        x=alt.value(100), x2=alt.value(260), y=alt.value(775), y2=alt.value(810)),
]

layers = legend_layers + frames + panel(DF_A, PA) + panel(DF_B, PB) + cut_label

chart = alt.layer(*layers).resolve_scale(x="independent", y="independent").properties(
    width=2730, height=1675, padding=0, autosize=alt.AutoSizeParams(type="none"),
    background="white"
).configure_view(strokeWidth=0)

chart.save("out.html", embed_options={"renderer": "svg", "actions": False})
